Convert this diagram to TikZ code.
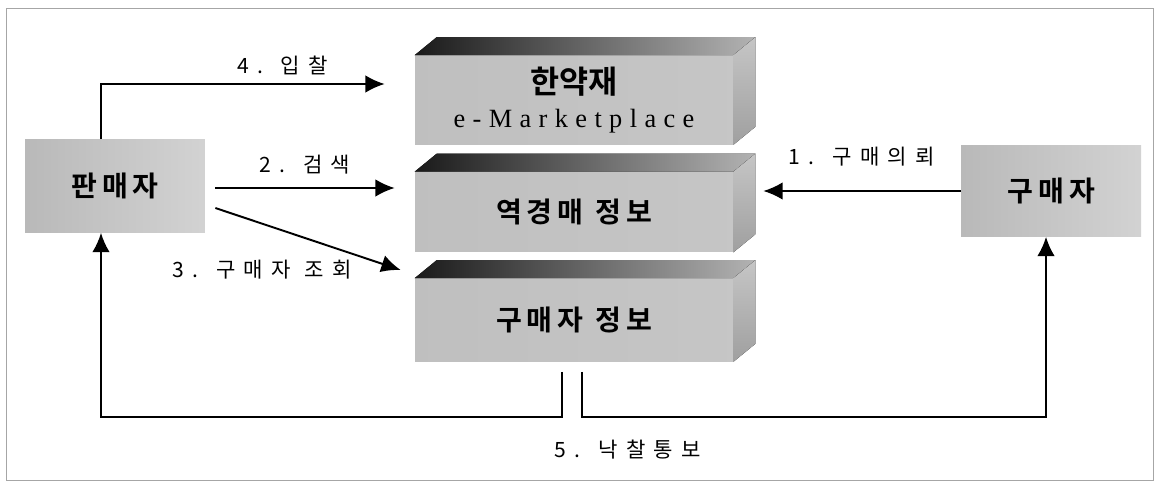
\documentclass[tikz,border=0pt]{standalone}
\usepackage{fontspec}
\setmainfont{Noto Sans CJK KR}
\newfontfamily\labface[LetterSpace=40]{Noto Sans CJK KR}
\newfontfamily\boxface[LetterSpace=18]{Noto Sans CJK KR Bold}
\newfontfamily\titleface{Noto Sans CJK KR Bold}
\newfontfamily\serface[LetterSpace=28]{Liberation Serif}
\usetikzlibrary{arrows.meta,calc}

\newcommand\boxfont{\boxface\fontsize{16}{18}\selectfont}
\newcommand\labfont{\labface\fontsize{12}{14}\selectfont}

% top and right faces of a slab, drawn on its front node
\newcommand\slabfaces[1]{%
  \fill[left color=black!90,right color=gray!60] (#1.north west) -- ++(22,-18)
    -- ($(#1.north east)+(22,-18)$) -- (#1.north east) -- cycle;
  \fill[top color=gray!45,bottom color=gray!75] (#1.north east) -- ++(22,-18)
    -- ($(#1.south east)+(22,-18)$) -- (#1.south east) -- cycle;}

\begin{document}
\begin{tikzpicture}[x=0.02cm,y=-0.02cm,>={Latex[length=11pt,width=10pt]},
  party/.style={rectangle,minimum width=3.6cm,minimum height=1.86cm,inner sep=0pt,
    left color=gray!55,right color=gray!35,font=\boxfont},
  slab/.style={rectangle,minimum width=6.36cm,inner sep=0pt,
    left color=gray!50,middle color=gray!15,right color=gray!45,font=\boxfont},
  lab/.style={font=\labfont},
  conn/.style={->,line width=1.1pt}]
  \useasboundingbox (0,0) rectangle (1158,483);
  \draw[gray!70] (6,8) rectangle (1153,480);

  \node[party] (seller) at (115,186) {판매자};
  \node[party,minimum height=1.82cm] (buyer) at (1051,191) {구매자};

  \node[slab,minimum height=1.78cm,align=center] (market) at (574,100)
    {{\titleface\fontsize{18}{18}\selectfont 한약재}\\[1pt]{\serface\fontsize{15}{15}\selectfont e-Marketplace}};
  \node[slab,minimum height=1.6cm] (auction) at (574,212) {역경매 정보};
  \node[slab,minimum height=1.66cm] (buyerinfo) at (574,320) {구매자 정보};
  \slabfaces{market}
  \slabfaces{auction}
  \slabfaces{buyerinfo}

  \draw[conn] ($(seller.north)+(-14,0)$) |- ($(market.west)+(-30,-16)$)
    node[lab,pos=0.82,above=1pt] {4. 입찰};
  \draw[conn] ($(seller.east)+(10,2)$) -- ($(auction.west)+(-20,-24)$)
    node[lab,midway,above=4pt] {2. 검색};
  \draw[conn] ($(seller.east)+(10,22)$) -- ($(buyerinfo.west)+(-14,-50)$);
  \node[lab] (lab3) at (262,270) {3. 구매자 조회};
  \draw[conn] (buyer.west) -- ($(auction.east)+(30,-21)$)
    node[lab,midway,above=10pt] {1. 구매의뢰};

  \draw[conn] ($(buyerinfo.south)+(-12,10)$) |- (101,417) -- ($(seller.south)+(-14,0)$);
  \draw[conn] ($(buyerinfo.south)+(8,10)$) |- (1046,417) -- ($(buyer.south)+(-5,0)$);
  \node[lab] (lab5) at (628,450) {5. 낙찰통보};
\end{tikzpicture}
\end{document}
